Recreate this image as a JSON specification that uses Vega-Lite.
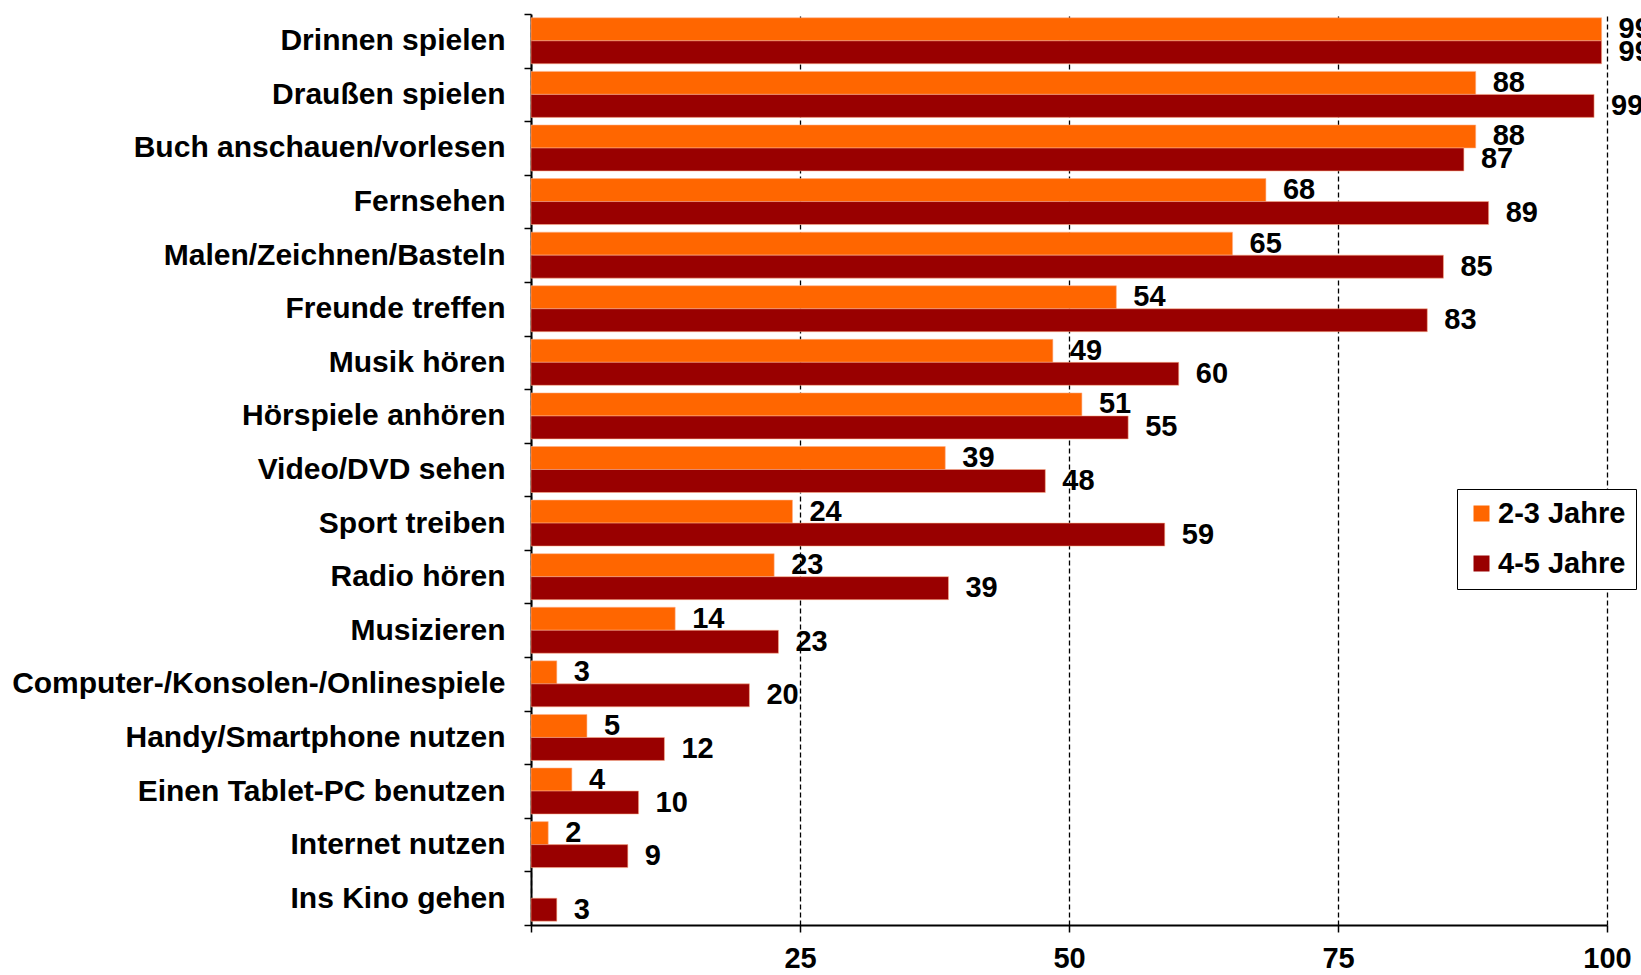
{
  "$schema": "https://vega.github.io/schema/vega-lite/v6.json",
  "autosize": {"type": "none"},
  "padding": {"left": 531, "top": 14, "right": 34, "bottom": 50},
  "width": 1076,
  "height": 911,
  "background": "white",
  "config": {
    "font": "Liberation Sans",
    "view": {"stroke": null}
  },
  "data": {
    "values": [
      {"activity": "Drinnen spielen", "group": "2-3 Jahre", "value": 99.5, "label": "99"},
      {"activity": "Drinnen spielen", "group": "4-5 Jahre", "value": 99.5, "label": "99"},
      {"activity": "Draußen spielen", "group": "2-3 Jahre", "value": 87.8, "label": "88"},
      {"activity": "Draußen spielen", "group": "4-5 Jahre", "value": 98.8, "label": "99"},
      {"activity": "Buch anschauen/vorlesen", "group": "2-3 Jahre", "value": 87.8, "label": "88"},
      {"activity": "Buch anschauen/vorlesen", "group": "4-5 Jahre", "value": 86.7, "label": "87"},
      {"activity": "Fernsehen", "group": "2-3 Jahre", "value": 68.3, "label": "68"},
      {"activity": "Fernsehen", "group": "4-5 Jahre", "value": 89.0, "label": "89"},
      {"activity": "Malen/Zeichnen/Basteln", "group": "2-3 Jahre", "value": 65.2, "label": "65"},
      {"activity": "Malen/Zeichnen/Basteln", "group": "4-5 Jahre", "value": 84.8, "label": "85"},
      {"activity": "Freunde treffen", "group": "2-3 Jahre", "value": 54.4, "label": "54"},
      {"activity": "Freunde treffen", "group": "4-5 Jahre", "value": 83.3, "label": "83"},
      {"activity": "Musik hören", "group": "2-3 Jahre", "value": 48.5, "label": "49"},
      {"activity": "Musik hören", "group": "4-5 Jahre", "value": 60.2, "label": "60"},
      {"activity": "Hörspiele anhören", "group": "2-3 Jahre", "value": 51.2, "label": "51"},
      {"activity": "Hörspiele anhören", "group": "4-5 Jahre", "value": 55.5, "label": "55"},
      {"activity": "Video/DVD sehen", "group": "2-3 Jahre", "value": 38.5, "label": "39"},
      {"activity": "Video/DVD sehen", "group": "4-5 Jahre", "value": 47.8, "label": "48"},
      {"activity": "Sport treiben", "group": "2-3 Jahre", "value": 24.3, "label": "24"},
      {"activity": "Sport treiben", "group": "4-5 Jahre", "value": 58.9, "label": "59"},
      {"activity": "Radio hören", "group": "2-3 Jahre", "value": 22.6, "label": "23"},
      {"activity": "Radio hören", "group": "4-5 Jahre", "value": 38.8, "label": "39"},
      {"activity": "Musizieren", "group": "2-3 Jahre", "value": 13.4, "label": "14"},
      {"activity": "Musizieren", "group": "4-5 Jahre", "value": 23.0, "label": "23"},
      {"activity": "Computer-/Konsolen-/Onlinespiele", "group": "2-3 Jahre", "value": 2.4, "label": "3"},
      {"activity": "Computer-/Konsolen-/Onlinespiele", "group": "4-5 Jahre", "value": 20.3, "label": "20"},
      {"activity": "Handy/Smartphone nutzen", "group": "2-3 Jahre", "value": 5.2, "label": "5"},
      {"activity": "Handy/Smartphone nutzen", "group": "4-5 Jahre", "value": 12.4, "label": "12"},
      {"activity": "Einen Tablet-PC benutzen", "group": "2-3 Jahre", "value": 3.8, "label": "4"},
      {"activity": "Einen Tablet-PC benutzen", "group": "4-5 Jahre", "value": 10.0, "label": "10"},
      {"activity": "Internet nutzen", "group": "2-3 Jahre", "value": 1.6, "label": "2"},
      {"activity": "Internet nutzen", "group": "4-5 Jahre", "value": 9.0, "label": "9"},
      {"activity": "Ins Kino gehen", "group": "4-5 Jahre", "value": 2.4, "label": "3"}
    ]
  },
  "encoding": {
    "y": {
      "field": "activity",
      "type": "nominal",
      "sort": null,
      "scale": {"paddingInner": 0, "paddingOuter": 0},
      "axis": {
        "title": null,
        "tickBand": "extent",
        "domainColor": "black",
        "domainWidth": 2,
        "tickColor": "black",
        "tickWidth": 1.5,
        "tickSize": 7,
        "labelPadding": 19,
        "labelFontSize": 30,
        "labelFontWeight": "bold",
        "labelColor": "black",
        "labelLimit": 700,
        "grid": false
      }
    },
    "yOffset": {
      "field": "group",
      "type": "nominal",
      "scale": {"domain": ["2-3 Jahre", "4-5 Jahre"], "paddingInner": 0, "paddingOuter": 0.165}
    },
    "x": {
      "field": "value",
      "type": "quantitative",
      "scale": {"domain": [0, 100], "nice": false},
      "axis": {
        "title": null,
        "values": [0, 25, 50, 75, 100],
        "labelExpr": "datum.value == 0 ? '' : datum.label",
        "domainColor": "black",
        "domainWidth": 2,
        "tickColor": "black",
        "tickWidth": 1.5,
        "tickSize": 7,
        "labelPadding": 12,
        "labelFontSize": 29,
        "labelFontWeight": "bold",
        "labelColor": "black",
        "labelFlush": false,
        "grid": true,
        "gridColor": "black",
        "gridWidth": 1.3,
        "gridDash": [5, 3]
      }
    }
  },
  "layer": [
    {
      "mark": {"type": "bar", "stroke": "#ffb08a", "strokeWidth": 0.8, "strokeOpacity": 0.7},
      "encoding": {
        "color": {
          "field": "group",
          "type": "nominal",
          "scale": {"domain": ["2-3 Jahre", "4-5 Jahre"], "range": ["#FF6600", "#990000"]},
          "legend": {
            "title": null,
            "orient": "none",
            "legendX": 926,
            "legendY": 475,
            "strokeColor": "black",
            "fillColor": "white",
            "padding": 10,
            "symbolType": "square",
            "symbolSize": 256,
            "symbolStrokeWidth": 0,
            "symbolOpacity": 1,
            "labelFontSize": 29,
            "labelFontWeight": "bold",
            "labelColor": "black",
            "labelOffset": 2,
            "rowPadding": 20,
            "labelLimit": 300
          }
        }
      }
    },
    {
      "mark": {
        "type": "text",
        "align": "left",
        "baseline": "middle",
        "dx": 17,
        "fontSize": 29,
        "fontWeight": "bold",
        "color": "black"
      },
      "encoding": {
        "text": {"field": "label", "type": "nominal"}
      }
    }
  ]
}
